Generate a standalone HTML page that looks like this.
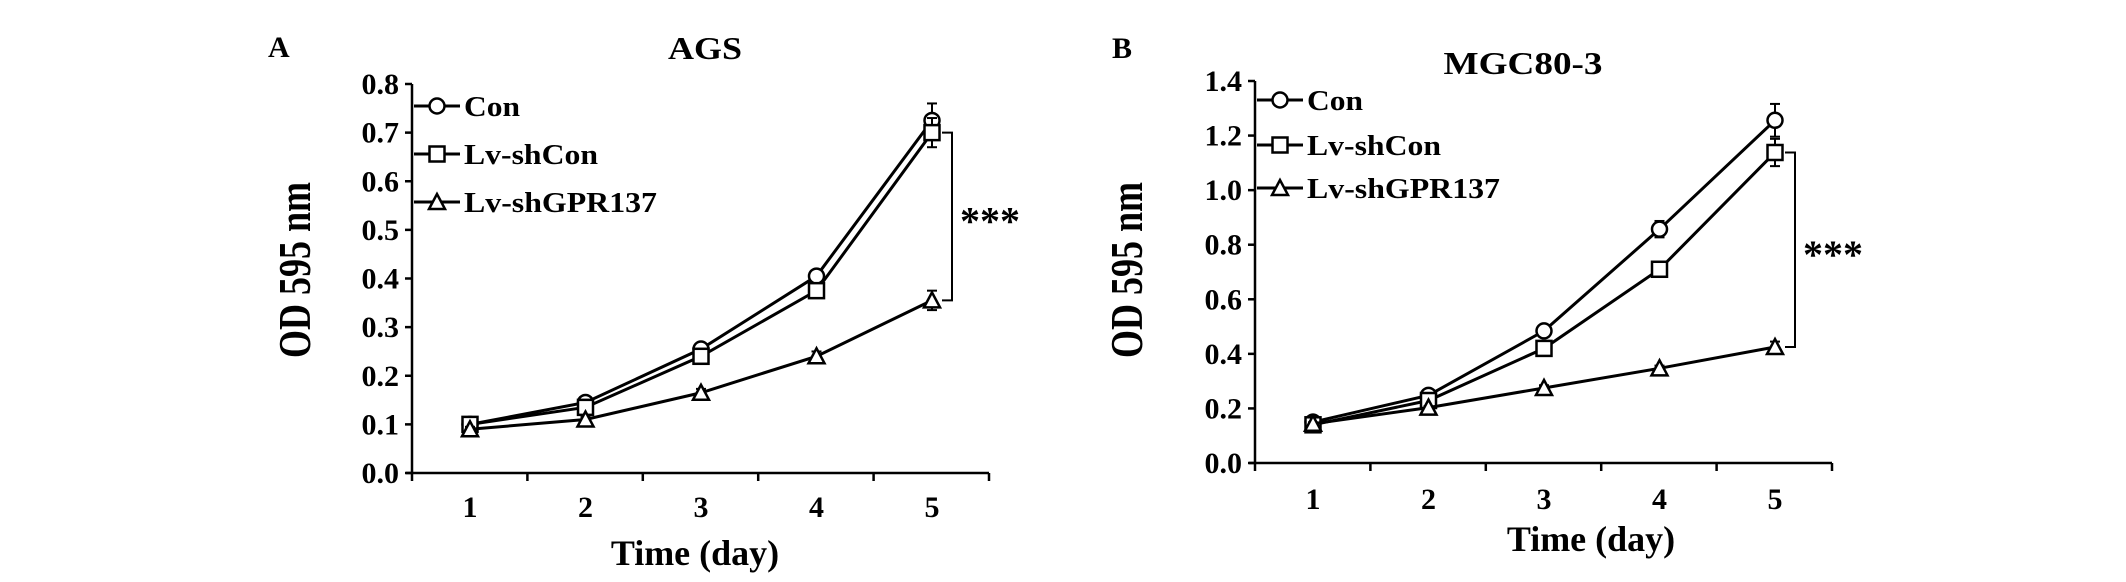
<!DOCTYPE html>
<html><head><meta charset="utf-8"><style>
html,body{margin:0;padding:0;background:#fff;}
svg{display:block;font-family:"Liberation Serif",serif;}
</style></head><body>
<svg id="fig" width="2126" height="582" viewBox="0 0 2126 582" xmlns="http://www.w3.org/2000/svg"></svg>
<script>
const days=[1,2,3,4,5];
const seriesNames=["Con","Lv-shCon","Lv-shGPR137"];
const aCon=[0.10,0.145,0.255,0.405,0.725];
const aShCon=[0.10,0.135,0.24,0.375,0.70];
const aShGPR=[0.09,0.11,0.165,0.24,0.355];
const aErrCon=[0.005,0.005,0.01,0.01,0.035];
const aErrShCon=[0.005,0.005,0.01,0.015,0.03];
const aErrShGPR=[0.005,0.005,0.008,0.01,0.02];
const aTicks=[0.0,0.1,0.2,0.3,0.4,0.5,0.6,0.7,0.8];
const bCon=[0.15,0.248,0.484,0.857,1.256];
const bShCon=[0.14,0.229,0.42,0.71,1.138];
const bShGPR=[0.144,0.203,0.275,0.347,0.425];
const bErrCon=[0.01,0.01,0.015,0.03,0.06];
const bErrShCon=[0.01,0.01,0.015,0.015,0.05];
const bErrShGPR=[0.005,0.005,0.01,0.01,0.02];
const bTicks=[0.0,0.2,0.4,0.6,0.8,1.0,1.2,1.4];

const NS="http://www.w3.org/2000/svg";
const svg=document.getElementById('fig');
function mk(tag,attrs,parent,text){const e=document.createElementNS(NS,tag);for(const k in attrs)e.setAttribute(k,attrs[k]);if(text!==undefined)e.textContent=text;(parent||svg).appendChild(e);return e;}

function marker(g,type,x,y){
  let m;
  if(type===0)m=mk('circle',{cx:x,cy:y,r:7.5,fill:'#fff',stroke:'#000','stroke-width':2.5},g);
  else if(type===1)m=mk('rect',{x:x-7.5,y:y-7.5,width:15,height:15,fill:'#fff',stroke:'#000','stroke-width':2.5},g);
  else m=mk('polygon',{points:`${x},${y-8} ${x-8},${y+7} ${x+8},${y+7}`,fill:'#fff',stroke:'#000','stroke-width':2.5},g);
  return m;
}

function panel(o){
  const g=mk('g',{});
  
  
  const X=d=>o.x0+(d-1)*o.dx;
  const Y=v=>o.y0-(v/o.vmax)*(o.y0-o.ytop);
  const L=mk('text',{x:o.lx,y:o.ly,'font-size':30,'font-weight':'bold'},g,o.letter);
  
  
  const T=mk('text',{x:o.tx,y:o.ty,'font-size':32,'font-weight':'bold','text-anchor':'middle',textLength:o.tl,lengthAdjust:'spacingAndGlyphs'},g,o.title);
  
  
  const ya=mk('line',{x1:o.ax,y1:o.ytop,x2:o.ax,y2:o.y0,stroke:'#000','stroke-width':2.5},g);
  
  
  const xa=mk('line',{x1:o.ax-6,y1:o.y0,x2:o.axEnd,y2:o.y0,stroke:'#000','stroke-width':2.5},g);
  
  
  o.ticks.forEach(t=>{
    mk('line',{x1:o.ax-7,y1:Y(t),x2:o.ax,y2:Y(t),stroke:'#000','stroke-width':2.5},g);
    const tl=mk('text',{x:o.ax-13,y:Y(t)+10,'font-size':30,'font-weight':'bold','text-anchor':'end'},g,t.toFixed(1));
    
    
  });
  for(let i=0;i<=days.length;i++){
    const tx=o.ax+(o.axEnd-o.ax)*i/days.length;
    mk('line',{x1:tx,y1:o.y0,x2:tx,y2:o.y0+8,stroke:'#000','stroke-width':2.5},g);
  }
  days.forEach(d=>{
    const xl=mk('text',{x:X(d),y:o.xly,'font-size':30,'font-weight':'bold','text-anchor':'middle'},g,String(d));
    
    
  });
  const xt=mk('text',{x:o.xtx,y:o.xty,'font-size':36,'font-weight':'bold','text-anchor':'middle'},g,'Time (day)');
  
  
  const yt=mk('text',{x:0,y:0,'font-size':36,'font-weight':'bold','text-anchor':'middle',transform:`translate(${o.ytx},${o.yty}) rotate(-90) scale(1,1.25)`},g,'OD 595 nm');
  
  
  o.series.forEach((s,si)=>{
    const sg=mk('g',{},g);
    
    
    const pts=s.v.map((v,i)=>X(days[i])+','+Y(v)).join(' ');
    mk('polyline',{points:pts,fill:'none',stroke:'#000','stroke-width':3},sg);
    s.v.forEach((v,i)=>{
      const x=X(days[i]),e=s.e[i];
      mk('line',{x1:x,y1:Y(v+e),x2:x,y2:Y(v-e),stroke:'#000','stroke-width':2},sg);
      mk('line',{x1:x-5,y1:Y(v+e),x2:x+5,y2:Y(v+e),stroke:'#000','stroke-width':2},sg);
      mk('line',{x1:x-5,y1:Y(v-e),x2:x+5,y2:Y(v-e),stroke:'#000','stroke-width':2},sg);
    });
    s.v.forEach((v,i)=>{
      const m=marker(sg,si,X(days[i]),Y(v));
      
      
    });
  });
  const bx=o.bx, y1=Y(o.series[1].v[4]), y2=Y(o.series[2].v[4]);
  const br=mk('polyline',{points:`${bx-10},${y1} ${bx},${y1} ${bx},${y2} ${bx-10},${y2}`,fill:'none',stroke:'#000','stroke-width':2},g);
  
  
  const st=mk('text',{x:bx+8,y:(y1+y2)/2+18,'font-size':40,'font-weight':'bold'},g,'***');
  
  
  seriesNames.forEach((n,i)=>{
    const lg=mk('g',{},g);
    
    
    const ly=o.legY[i];
    mk('line',{x1:o.legX,y1:ly,x2:o.legX+46,y2:ly,stroke:'#000','stroke-width':3},lg);
    marker(lg,i,o.legX+23,ly);
    mk('text',{x:o.legX+50,y:ly+10,'font-size':28,'font-weight':'bold',textLength:[56,134,193][i],lengthAdjust:'spacingAndGlyphs'},lg,n);
  });
}

panel({id:'ags',letter:'A',lx:268,ly:57,title:'AGS',tl:74,tx:705,ty:59,ax:412,axEnd:989,x0:470,dx:115.5,y0:473,ytop:84,vmax:0.8,ticks:aTicks,xly:517,xtx:695,xty:565,ytx:310,yty:270,bx:952,
  series:[{v:aCon,e:aErrCon},{v:aShCon,e:aErrShCon},{v:aShGPR,e:aErrShGPR}],legX:414,legY:[106,154,202]});
panel({id:'mgc80-3',letter:'B',lx:1112,ly:58,title:'MGC80-3',tl:159,tx:1523,ty:74,ax:1255,axEnd:1832,x0:1313,dx:115.5,y0:463,ytop:81,vmax:1.4,ticks:bTicks,xly:509,xtx:1591,xty:551,ytx:1142,yty:270,bx:1795,
  series:[{v:bCon,e:bErrCon},{v:bShCon,e:bErrShCon},{v:bShGPR,e:bErrShGPR}],legX:1257,legY:[100,145,188]});
</script>
</body></html>
